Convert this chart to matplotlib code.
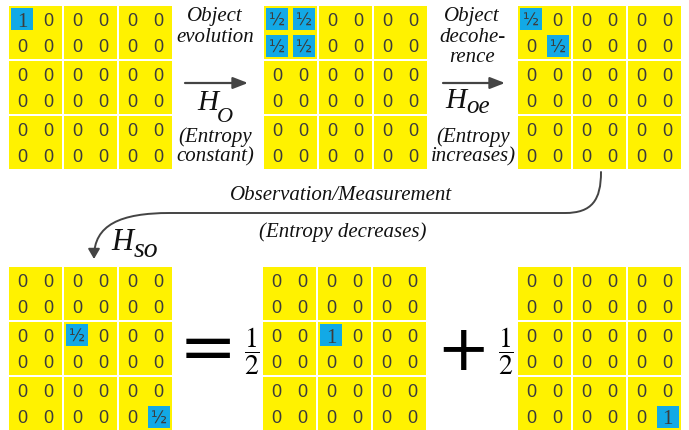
import matplotlib.pyplot as plt
from matplotlib.patches import Rectangle, FancyArrowPatch
from matplotlib.path import Path

plt.rcParams['mathtext.fontset'] = 'stix'

# each matrix is all zeros except the listed (row, col, label) entries
initial = [(0, 0, "1")]
evolved = [(0, 0, "½"), (0, 1, "½"), (1, 0, "½"), (1, 1, "½")]
decohered = [(0, 0, "½"), (1, 1, "½")]
observed = [(2, 2, "½"), (5, 5, "½")]
outcome_a = [(2, 2, "1")]
outcome_b = [(5, 5, "1")]

YELLOW = "#fff200"
BLUE = "#12a9e6"
INK = "#3c3c3c"
BLOCK = 53
GAP = 2
CELL = BLOCK / 2

fig = plt.figure(figsize=(6.89, 4.30), dpi=100)
ax = fig.add_axes([0, 0, 1, 1])
ax.set_xlim(0, 689)
ax.set_ylim(430, 0)
ax.axis("off")


def draw_matrix(x0, y0, entries):
    special = {(r, c): lab for r, c, lab in entries}
    for bi in range(3):
        for bj in range(3):
            ax.add_patch(Rectangle((x0 + bj * (BLOCK + GAP), y0 + bi * (BLOCK + GAP)),
                                   BLOCK, BLOCK, color=YELLOW, lw=0))
    for r in range(6):
        for c in range(6):
            cx = x0 + (c // 2) * (BLOCK + GAP) + (c % 2) * CELL + CELL / 2
            cy = y0 + (r // 2) * (BLOCK + GAP) + (r % 2) * CELL + CELL / 2
            lab = special.get((r, c), "0")
            if lab == "0":
                ax.text(cx, cy + 6.5, lab, ha="center", va="baseline", fontsize=13,
                        family="Liberation Sans", color=INK)
                continue
            ax.add_patch(Rectangle((cx - 11, cy - 11), 22, 22, color=BLUE, lw=0))
            if lab == "1":
                ax.text(cx, cy + 7.5, lab, ha="center", va="baseline", fontsize=15,
                        family="Liberation Serif", color=INK)
            else:
                ax.text(cx, cy + 6.5, lab, ha="center", va="baseline", fontsize=12,
                        family="DejaVu Sans", color=INK)


def label(x, y, lines, pitch=21):
    # italic caption, one text per line, y is the centre of the first line
    for i, line in enumerate(lines):
        ax.text(x, y + i * pitch, line, family="Liberation Serif", style="italic",
                fontsize=15, color="#111111", ha="center", va="center")


def operator(x, y, sub, sub_dx, sub_dy, size=21, sub_size=16):
    # H with a large, lowered subscript
    kw = dict(family="Liberation Serif", style="italic", color="#111111",
              ha="left", va="baseline")
    ax.text(x, y, "H", fontsize=size, **kw)
    ax.text(x + sub_dx, y + sub_dy, sub, fontsize=sub_size, **kw)


draw_matrix(9, 6, initial)
draw_matrix(264, 6, evolved)
draw_matrix(518, 6, decohered)
draw_matrix(9, 267, observed)
draw_matrix(263, 267, outcome_a)
draw_matrix(518, 267, outcome_b)

arrow = dict(arrowstyle="-|>,head_length=0.9,head_width=0.35", color="#444444", lw=1.6,
             shrinkA=0, shrinkB=0)

# object evolution
label(215, 17, ["Object", "evolution"])
ax.annotate("", xy=(248, 83), xytext=(185, 83), arrowprops=arrow)
operator(197, 110, "O", 20, 12)
label(215, 137, ["(Entropy", "constant)"], pitch=20)

# object decoherence
label(472, 16, ["Object", "decohe-", "rence"])
ax.annotate("", xy=(505, 83), xytext=(443, 83), arrowprops=arrow)
operator(445, 108, "oe", 21, 5, sub_size=18)
label(473, 137, ["(Entropy", "increases)"], pitch=20)

# observation / measurement
label(341, 196, ["Observation/Measurement"])
label(343, 232, ["(Entropy decreases)"])
verts = [(601, 172), (601, 200), (592, 213), (565, 213),
         (170, 213),
         (120, 213), (94, 225), (94, 259)]
codes = [Path.MOVETO, Path.CURVE4, Path.CURVE4, Path.CURVE4,
         Path.LINETO,
         Path.CURVE4, Path.CURVE4, Path.CURVE4]
ax.add_patch(FancyArrowPatch(path=Path(verts, codes),
                             arrowstyle="-|>,head_length=6,head_width=3.5",
                             color="#444444", lw=1.4))
operator(111, 250, "so", 23, 7, size=22, sub_size=20)

# decomposition into outcomes
ax.text(208, 351, "=", fontsize=50, ha="center", va="center", color="black")
ax.text(252, 351, r"$\dfrac{1}{2}$", fontsize=20, ha="center", va="center", color="black")
ax.text(463, 352, "+", fontsize=46, ha="center", va="center", color="black")
ax.text(506, 351, r"$\dfrac{1}{2}$", fontsize=20, ha="center", va="center", color="black")

fig.savefig("out.png", dpi=100)
